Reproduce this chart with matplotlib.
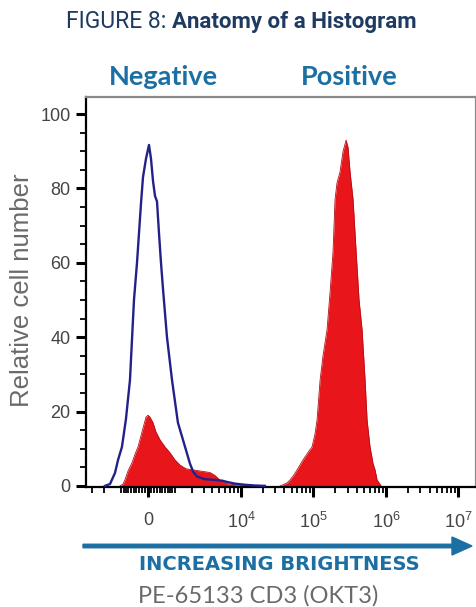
import numpy as np
import matplotlib
matplotlib.use("Agg")
import matplotlib.pyplot as plt

plt.rcParams["mathtext.default"] = "regular"

# ── data (fluorescence intensity vs relative cell number) ──────────
neg_x = [-1924, -1596, -1312, -1155, -970, -796, -634, -483, -374, -304,
         -235, -168, -67, 33, 100, 168, 235, 304, 374, 446, 519, 672, 880,
         1155, 1540, 1851, 2080, 2377, 3110, 4350, 5460, 6620, 8300, 11400,
         15700, 21500]
neg_y = [0, 0.5, 3.5, 7, 10.5, 18, 28.5, 50, 60, 68, 76, 83, 88, 91.7, 88,
         82, 78, 76.5, 68, 60, 53, 40, 28.5, 17, 10.5, 6, 3.8, 2.5, 1.8, 1.6,
         1.4, 1.0, 0.6, 0.3, 0.1, 0]

pos_lo_x = [-1062, -924, -839, -713, -557, -446, -339, -235, -134, -67, 0,
            67, 168, 270, 410, 595, 796, 1013, 1263, 1596, 2080, 2645, 3110,
            3685, 4350, 5115, 6415, 8300, 11400, 13390]
pos_lo_y = [0, 0.5, 1.6, 4, 6.2, 8.5, 10.5, 13.5, 16.5, 18.5, 19, 18.5, 17,
            14.5, 12.4, 10.5, 8.9, 7, 5.6, 4.6, 4.3, 4.0, 3.8, 3.6, 2.8, 1.5,
            0.6, 0.3, 0.1, 0]

pos_hi_x = [34750, 38200, 43400, 47800, 54200, 59600, 72100, 84500, 96000,
            105600, 112500, 124000, 136000, 154500, 170000, 187000, 199000,
            212000, 233000, 257000, 283000, 301000, 321000, 353000, 388000,
            427000, 470000, 517000, 551000, 605000, 666000, 710000, 757000,
            860000]
pos_hi_y = [0, 0.3, 0.8, 1.6, 3, 4.3, 7, 9, 10.5, 14, 17.7, 28.5, 35, 42, 52,
            63, 77, 81.5, 84.4, 90, 93, 91, 84.4, 77, 63.4, 50, 42, 28.5, 17.7,
            10.5, 6, 4.3, 1.6, 0]

x_major = [0, 1e4, 1e5, 1e6, 1e7]
x_labels = ["0", "$10^{4}$", "$10^{5}$", "$10^{6}$", "$10^{7}$"]
x_minor = ([-3000, -2000, -1000] + list(range(-900, 1000, 100))
           + list(range(1000, 10000, 1000))
           + [m * 10 ** e for e in (4, 5, 6) for m in range(2, 10)])
y_major = [0, 20, 40, 60, 80, 100]

# biexponential-like display scale
W = 1050.0
def fwd(x):
    return np.arcsinh(np.asarray(x, float) / W) / np.log(10)
def inv(p):
    return W * np.sinh(np.asarray(p, float) * np.log(10))

BLUE = "#1b6fa3"
NAVY = "#1f3a61"
RED = "#e8151b"

fig = plt.figure(figsize=(4.77, 6.07), dpi=100)
ax = fig.add_axes([86 / 477, 1 - 487 / 607, 390 / 477, 390 / 607])

ax.set_xscale("function", functions=(fwd, inv))
ax.set_xlim(-3685, 1.75e7)
ax.set_ylim(-0.3, 104.6)

ax.fill_between(pos_lo_x, pos_lo_y, 0, color=RED, lw=0, zorder=2)
ax.plot(pos_lo_x, pos_lo_y, color="#b01018", lw=0.6, zorder=2)
ax.fill_between(pos_hi_x, pos_hi_y, 0, color=RED, lw=0, zorder=2)
ax.plot(pos_hi_x, pos_hi_y, color="#b01018", lw=0.6, zorder=2)
ax.plot(neg_x, neg_y, color="#22218a", lw=1.7, zorder=3)

ax.set_xticks(x_major)
ax.set_xticklabels(x_labels)
ax.set_xticks(x_minor, minor=True)
ax.set_yticks(y_major)
ax.set_yticks(np.arange(0, 105, 5), minor=True)

ax.tick_params(which="major", direction="out", length=7, width=2.2,
               labelsize=13, labelcolor="#444444", pad=4)
ax.tick_params(which="minor", direction="out", length=4, width=1.3)
ax.tick_params(axis="x", which="major", pad=11)
for lab in ax.get_xticklabels() + ax.get_yticklabels():
    lab.set_family("Liberation Sans")

for side in ("left", "bottom"):
    ax.spines[side].set_color("black")
    ax.spines[side].set_linewidth(1.6)
for side in ("top", "right"):
    ax.spines[side].set_color("#8a8a8a")
    ax.spines[side].set_linewidth(1.6)

fig.text(22 / 477, 1 - 290 / 607, "Relative cell number", rotation=90,
         ha="center", va="center", fontsize=18.5, color="#6a6a6a",
         family="Liberation Sans")

# ── annotations ───────────────────────────────────────────────
fig.text(172 / 477, 1 - 22 / 607, "FIGURE 8: ", ha="right", va="center",
         fontsize=16.5, color=NAVY, family="Roboto")
fig.text(172 / 477, 1 - 22 / 607, "Anatomy of a Histogram", ha="left",
         va="center", fontsize=16, color=NAVY, fontweight="bold",
         family="Roboto")

fig.text(163 / 477, 1 - 77 / 607, "Negative", ha="center", va="center",
         fontsize=19.5, color=BLUE, fontweight="bold", family="Lato")
fig.text(349 / 477, 1 - 77 / 607, "Positive", ha="center", va="center",
         fontsize=19.5, color=BLUE, fontweight="bold", family="Lato")

fig.patches.append(matplotlib.patches.FancyArrow(
    83 / 477, 1 - 546 / 607, (472 - 83) / 477, 0, width=3.5 / 607,
    head_width=18 / 607, head_length=20 / 477, length_includes_head=True,
    color=BLUE, transform=fig.transFigure, figure=fig))

fig.text(279 / 477, 1 - 564 / 607, "INCREASING BRIGHTNESS", ha="center",
         va="center", fontsize=14, color=BLUE, fontweight="bold",
         family="DejaVu Sans")
fig.text(258 / 477, 1 - 596 / 607, "PE-65133 CD3 (OKT3)", ha="center",
         va="center", fontsize=17, color="#6a6a6a", family="Lato")

fig.savefig("out.png", dpi=100, facecolor="white")
